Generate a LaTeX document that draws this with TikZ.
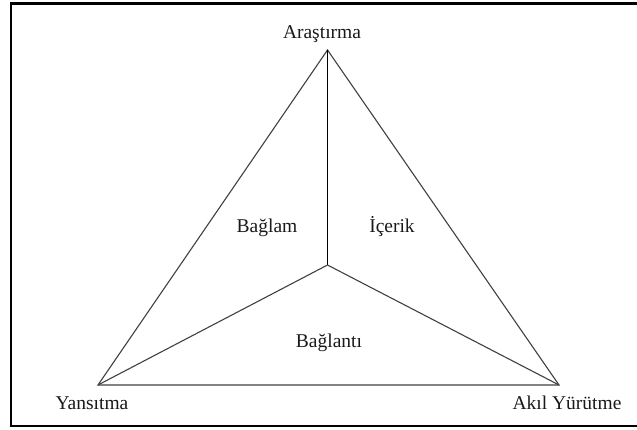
\documentclass[tikz,border=0pt]{standalone}
\usepackage{fontspec}
\setmainfont{Liberation Serif}
\begin{document}
\begin{tikzpicture}[x=1pt,y=1pt,
  edge/.style={draw=black!75, line width=1.1pt},
  lbl/.style={font=\fontsize{19.5}{22}\selectfont, anchor=base, inner sep=0pt, text=black!90}]
  \useasboundingbox (0,0) rectangle (637,430);
  \clip (0,0) rectangle (637,430);
  % outer frame (right side runs past the edge)
  \draw[line width=2.8pt] (11,4) rectangle (645,426.5);
  % triangle corners and centre
  \coordinate (top) at (327.5,380);
  \coordinate (bl) at (98,45);
  \coordinate (br) at (559,45);
  \coordinate (c) at (327.5,165);
  \draw[edge] (top) -- (bl) -- (br) -- cycle;
  \draw[edge, draw=black] (top) -- (c);
  \draw[edge] (c) -- (bl);
  \draw[edge] (c) -- (br);
  % labels
  \node[lbl] (ar) at (322,391) {Araştırma};
  \node[lbl] (ya) at (92,20) {Yansıtma};
  \node[lbl] (ak) at (567,20) {Akıl Yürütme};
  \node[lbl] (bg) at (267,197) {Bağlam};
  \node[lbl] (ic) at (392,197) {İçerik};
  \node[lbl] (bt) at (329,82) {Bağlantı};
\end{tikzpicture}
\end{document}
